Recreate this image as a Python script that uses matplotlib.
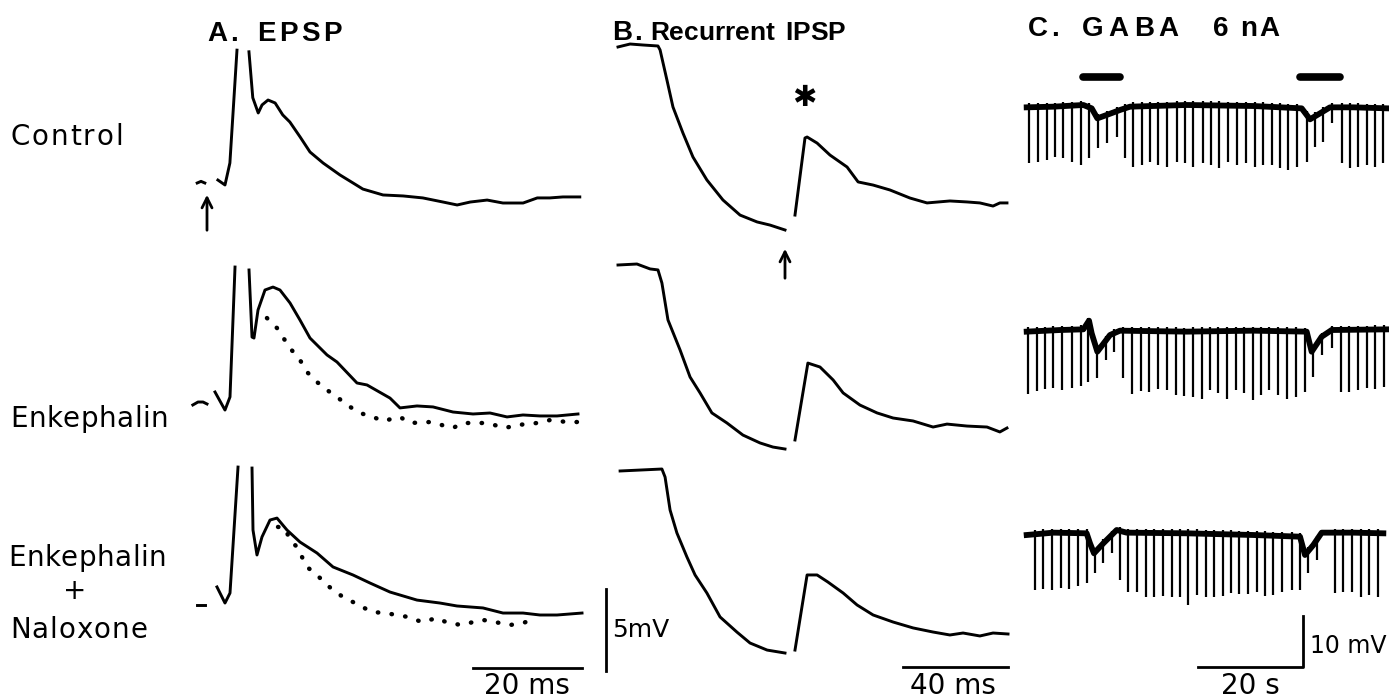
import numpy as np
import matplotlib.pyplot as plt

nan = np.nan
W, H = 1389, 700

# ---- A. EPSP (time in ms from stimulus, mV from pre-stimulus level) ----
a_pre_t = [[-1.8, -1.1, -0.4], [-2.6, -1.65, -0.73, 0.0], [-1.8, -0.4]]
a_pre_v = [[0.0, 0.1, 0.0], [-0.12, 0.06, 0.06, -0.06], [0.0, 0.0]]

ctrl_t = [2.0, 3.3, 4.2, 5.5, nan, 7.7, 8.4, 9.4, 10.1, 11.2, 12.5, 13.9, 15.2, 17.1, 18.9,
          21.3, 24.4, 26.8, 28.6, 32.3, 36.0, 39.6, 43.3, 45.9, 48.3, 51.4, 54.3, 58.0,
          60.6, 62.9, 65.3, 68.4]
ctrl_v = [0.18, -0.12, 1.22, 8.1, nan, 8.0, 5.2, 4.27, 4.76, 5.06, 4.88, 4.15, 3.72, 2.80, 1.89,
          1.22, 0.49, 0.0, -0.37, -0.73, -0.79, -0.91, -1.16, -1.34, -1.16, -1.04, -1.22, -1.22,
          -0.91, -0.91, -0.85, -0.85]

enk_t = [1.47, 3.30, 4.22, 5.14, nan, 7.71, 8.26, 8.62, 9.36, 10.64, 12.11, 13.39, 15.23, 17.06,
         18.90, 22.02, 23.85, 27.52, 29.36, 33.58, 35.41, 38.53, 41.47, 45.14, 48.81, 51.93,
         55.05, 57.98, 61.10, 64.22, 68.07]
enk_v = [0.67, -0.43, 0.37, 8.29, nan, 8.11, 4.02, 3.96, 5.67, 6.89, 7.07, 6.89, 6.10, 5.06,
         3.96, 2.93, 2.50, 1.22, 1.10, 0.30, -0.30, -0.18, -0.24, -0.55, -0.67, -0.61,
         -0.85, -0.73, -0.79, -0.79, -0.67]
enk_ctrl_t = [11.0, 12.84, 15.23, 17.06, 18.53, 20.18, 22.02, 23.85, 25.69, 28.07, 30.46, 32.29,
              35.41, 37.25, 40.92, 45.14, 46.97, 48.81, 51.38, 54.68, 57.06, 60.55, 62.94,
              66.06, 67.89]
enk_ctrl_v = [5.18, 4.57, 3.35, 2.62, 1.83, 1.28, 0.79, 0.37, -0.12, -0.61, -0.85, -1.10,
              -0.85, -1.22, -1.16, -1.52, -1.22, -1.22, -1.22, -1.52, -1.34, -1.22, -1.04,
              -1.16, -1.16]

nal_t = [1.83, 3.30, 4.22, 5.69, nan, 8.26, 8.44, 9.17, 10.09, 11.56, 12.84, 14.68, 17.06, 20.18,
         23.12, 26.79, 29.91, 33.58, 38.53, 42.75, 45.87, 50.64, 54.31, 57.98, 61.10, 64.22,
         68.81]
nal_v = [1.10, 0.12, 0.73, 8.41, nan, 8.35, 4.57, 3.05, 4.15, 5.18, 5.30, 4.57, 3.84, 3.17,
         2.32, 1.83, 1.34, 0.79, 0.30, 0.12, -0.06, -0.18, -0.49, -0.49, -0.61, -0.61, -0.49]
nal_ctrl_t = [13.03, 14.31, 15.23, 16.51, 18.35, 20.18, 21.65, 23.12, 24.95, 26.79, 28.44,
              30.46, 32.66, 34.86, 36.88, 39.45, 42.20, 44.22, 46.79, 48.81, 50.64, 52.84,
              55.60, 57.98, 60.55]
nal_ctrl_v = [4.76, 4.70, 3.96, 3.54, 2.32, 1.83, 1.34, 0.91, 0.49, 0.18, -0.12, -0.43, -0.49,
              -0.61, -0.73, -1.04, -0.79, -1.10, -1.22, -1.04, -0.91, -1.04, -1.22, -1.10,
              -0.79]

# ---- B. Recurrent IPSP (ms from antidromic stimulus, mV from initial level) ----
b1_t = [-63.5, -58.9, -54.0, -48.3, -47.5, -44.9, -42.6, -38.8, -35.0, -29.7, -23.6, -17.1,
        -10.6, -5.7, 0.0, nan, 3.8, 7.6, 8.4, 12.2, 17.1, 23.6, 27.8, 33.5, 39.9, 47.5, 54.0,
        62.7, 69.2, 74.1, 79.1, 81.7, 84.4]
b1_v = [-0.12, 0.06, 0.0, -0.06, -0.30, -2.13, -3.78, -5.37, -6.83, -8.23, -9.45, -10.37,
        -10.79, -10.98, -11.28, nan, -10.37, -5.67, -5.61, -5.98, -6.71, -7.44, -8.35, -8.54,
        -8.84, -9.33, -9.63, -9.51, -9.57, -9.63, -9.82, -9.63, -9.63]
b2_t = [-63.5, -56.3, -51.3, -48.3, -46.8, -44.5, -39.9, -36.1, -32.3, -27.8, -22.1, -16.0,
        -9.5, -4.6, 0.0, nan, 3.8, 8.7, 13.3, 18.3, 22.1, 28.5, 35.0, 41.1, 48.7, 56.3, 61.6,
        69.2, 76.8, 81.7, 84.4]
b2_v = [0.0, 0.06, -0.24, -0.30, -1.10, -3.35, -5.18, -6.83, -7.80, -9.02, -9.63, -10.37,
        -10.85, -11.10, -11.22, nan, -10.67, -5.98, -6.22, -7.01, -7.80, -8.54, -9.02, -9.33,
        -9.51, -9.88, -9.70, -9.82, -9.88, -10.18, -9.94]
b3_t = [-62.7, -46.8, -45.6, -43.7, -41.1, -37.3, -34.2, -29.7, -24.7, -18.3, -13.3, -6.8, 0.0,
        nan, 3.8, 8.4, 12.2, 16.3, 22.1, 27.4, 33.5, 41.1, 48.7, 56.3, 62.7, 67.7, 74.1, 79.1,
        84.8]
b3_v = [-0.06, 0.06, -0.43, -2.44, -3.84, -5.30, -6.40, -7.50, -8.96, -9.88, -10.55, -10.98,
        -11.16, nan, -10.98, -6.40, -6.40, -6.83, -7.50, -8.23, -8.84, -9.27, -9.63, -9.88,
        -10.06, -9.94, -10.12, -9.94, -10.00]

# ---- C. GABA 6 nA (time in s, mV from resting level) ----
gaba_on = [(10.48, 17.52), (51.81, 59.43)]

c1_base_t = [-0.25, 4.83, 10.54, 12.13, 13.21, 14.98, 17.52, 19.43, 30.22, 42.92, 52.13, 53.71,
             55.62, 57.52, 61.97, 68.63]
c1_base_v = [0.13, 0.26, 0.59, -0.07, -2.03, -1.37, -0.39, 0.26, 0.59, 0.39, -0.07, -2.22,
             -1.05, 0.13, 0.13, -0.07]
c1_spk_t = [0.25, 1.97, 3.56, 5.14, 6.73, 8.44, 10.10, 11.62, 13.40, 14.98, 16.89, 18.48, 20.06,
            21.65, 23.24, 24.83, 26.41, 28.32, 29.90, 31.49, 33.27, 34.79, 36.44, 38.16, 39.75,
            41.52, 43.24, 44.83, 46.41, 48.00, 49.59, 51.17, 53.08, 54.67, 56.25, 57.84, 59.75,
            61.33, 62.92, 64.51, 66.10, 67.68]
c1_spk_v = [10.85, 10.52, 10.20, 9.54, 9.87, 10.52, 11.18, 9.87, 7.91, 6.93, 5.62, 9.87, 11.50,
            11.18, 10.52, 11.18, 11.50, 10.52, 10.85, 11.50, 10.85, 11.18, 11.83, 10.52, 11.18,
            10.85, 11.50, 11.18, 11.18, 11.83, 12.16, 11.50, 10.52, 7.58, 6.60, 3.01, 10.85,
            11.83, 11.50, 11.18, 11.50, 10.85]

c2_base_t = [-0.25, 6.10, 10.54, 11.62, 12.13, 13.21, 15.62, 17.52, 30.22, 42.92, 53.08, 54.03,
             55.94, 57.84, 68.63]
c2_base_v = [0.07, 0.39, 0.52, 2.22, -0.26, -3.86, -0.59, 0.26, 0.07, 0.26, 0.07, -3.86, -0.92,
             0.39, 0.52]
c2_spk_t = [0.06, 1.65, 3.24, 4.83, 6.54, 8.32, 10.03, 11.49, 13.08, 14.86, 16.44, 18.03, 19.75,
            21.46, 23.11, 24.83, 26.41, 28.13, 29.78, 31.37, 33.08, 34.67, 36.25, 37.84, 39.62,
            41.14, 42.79, 44.32, 45.97, 47.68, 49.27, 50.98, 52.76, 54.35, 55.94, 57.84, 59.56,
            61.21, 62.79, 64.51, 66.10, 67.81]
c2_spk_v = [12.16, 11.50, 11.24, 11.05, 11.37, 11.05, 10.59, 9.74, 9.08, 5.49, 3.86, 9.08, 12.16,
            11.50, 11.70, 11.24, 11.37, 12.35, 12.55, 12.81, 13.20, 11.37, 12.03, 13.20, 11.37,
            12.03, 13.33, 12.35, 11.37, 12.35, 13.20, 12.68, 11.70, 8.76, 4.51, 3.20, 11.70,
            11.70, 11.37, 11.05, 11.24, 10.72]

c3_base_t = [-0.25, 4.83, 11.17, 11.81, 12.57, 14.35, 16.89, 18.79, 30.22, 42.92, 51.81, 52.76,
             54.35, 55.94, 61.97, 67.68]
c3_base_v = [0.0, 0.46, 0.33, -1.63, -3.59, -1.63, 0.98, 0.46, 0.33, 0.0, -0.33, -3.92, -1.96,
             0.46, 0.46, 0.33]
c3_spk_t = [1.33, 2.92, 4.63, 6.22, 7.87, 9.59, 11.17, 12.76, 14.35, 15.94, 17.52, 19.11, 20.70,
            22.41, 24.06, 25.65, 27.37, 28.95, 30.54, 32.13, 33.84, 35.43, 37.08, 38.67, 40.25,
            41.97, 43.56, 45.14, 46.73, 48.32, 50.22, 51.81, 53.40, 54.98, 58.48, 60.06, 61.65,
            63.37, 65.02, 66.73]
c3_spk_v = [10.78, 10.65, 10.78, 10.46, 10.65, 10.00, 9.48, 7.52, 5.56, 3.59, 8.82, 11.11, 11.11,
            12.09, 12.09, 11.96, 12.09, 12.09, 13.73, 11.76, 12.09, 12.09, 11.96, 11.44, 11.57,
            11.57, 11.11, 11.96, 11.76, 11.11, 10.78, 10.78, 7.52, 4.90, 11.44, 11.11, 11.11,
            12.09, 11.76, 12.09]

row_labels = ['Control', 'Enkephalin', 'Enkephalin', '+', 'Naloxone']

# ---------------------------------------------------------------------------
fig = plt.figure(figsize=(W / 100, H / 100), dpi=100)
plt.rcParams['font.family'] = ['DejaVu Sans']
rend = fig.canvas.get_renderer()


def panel(left, right, t0, xs, ys):
    ax = fig.add_axes([left / W, 0, (right - left) / W, 1])
    ax.set_xlim((left - t0) / xs, (right - t0) / xs)
    ax.set_ylim(0, H / ys)
    ax.axis('off')
    return ax


def ftext(x, y, s, **kw):
    return fig.text(x / W, 1 - y / H, s, **kw)


def spaced(x, y, s, track, **kw):
    # letter-spaced text, like the typeset labels of the original
    for ch in s:
        t = ftext(x, y, ch, **kw)
        x += t.get_window_extent(renderer=rend).width + track


axA = panel(190, 600, 207, 5.45, 16.4)
axB = panel(600, 1015, 785, 2.63, 16.4)
axC = panel(1015, 1389, 1028, 5.25, 5.1)

offA = [(H - y) / 16.4 for y in (183, 403, 605)]
offB = [(H - y) / 16.4 for y in (45, 265, 470)]
offC = [(H - y) / 5.1 for y in (108, 332, 535)]

lw = 2.1
dots = dict(linestyle=(0, (0.1, 3.0)), lw=3.2, dash_capstyle='round', color='k')

# A traces
for i, (t, v) in enumerate([(ctrl_t, ctrl_v), (enk_t, enk_v), (nal_t, nal_v)]):
    o = offA[i]
    axA.plot(a_pre_t[i], np.array(a_pre_v[i]) + o, color='k', lw=lw)
    axA.plot(t, np.array(v) + o, color='k', lw=lw, solid_joinstyle='round')
axA.plot(enk_ctrl_t, np.array(enk_ctrl_v) + offA[1], **dots)
axA.plot(nal_ctrl_t, np.array(nal_ctrl_v) + offA[2], **dots)
axA.annotate('', xy=(0, (H - 192) / 16.4), xytext=(0, (H - 233) / 16.4),
             arrowprops=dict(arrowstyle='->', lw=2, color='k', mutation_scale=18))
# 20 ms bar
axA.plot([48.8, 68.8], [(H - 668) / 16.4] * 2, color='k', lw=2)

# B traces
for i, (t, v) in enumerate([(b1_t, b1_v), (b2_t, b2_v), (b3_t, b3_v)]):
    axB.plot(t, np.array(v) + offB[i], color='k', lw=lw, solid_joinstyle='round')
axB.annotate('', xy=(0, (H - 246) / 16.4), xytext=(0, (H - 281) / 16.4),
             arrowprops=dict(arrowstyle='->', lw=2, color='k', mutation_scale=18))
axB.text(7.2, offB[0] - 3.23, '\u2731', ha='center', va='center', fontsize=21)
# 5 mV and 40 ms bars
axB.plot([-68.1, -68.1], [(H - 671) / 16.4, (H - 671) / 16.4 + 5], color='k', lw=2)
axB.plot([44.9, 84.8], [(H - 667) / 16.4] * 2, color='k', lw=2)

# C traces
for i, (bt, bv, st, sv) in enumerate([(c1_base_t, c1_base_v, c1_spk_t, c1_spk_v),
                                      (c2_base_t, c2_base_v, c2_spk_t, c2_spk_v),
                                      (c3_base_t, c3_base_v, c3_spk_t, c3_spk_v)]):
    o = offC[i]
    axC.plot(bt, np.array(bv) + o, color='k', lw=4.2, solid_joinstyle='round')
    top = np.interp(st, bt, bv) + o + 0.8
    axC.vlines(st, o - np.array(sv), top, color='k', lw=1.6)
for a, b in gaba_on:
    axC.plot([a, b], [(H - 77) / 5.1] * 2, color='k', lw=5.5, solid_capstyle='round')
# 10 mV / 20 s bars
yb = (H - 667) / 5.1
axC.plot([32.38, 52.38, 52.38], [yb, yb, yb + 10], color='k', lw=2)

# titles
tf = dict(fontsize=20, family='Liberation Sans', fontweight='bold')
spaced(207, 41, 'A.', 3, **tf)
spaced(257, 41, 'EPSP', 3.5, **tf)
spaced(612, 40, 'B.', 2, **tf)
spaced(650, 40, 'Recurrent', 0, **dict(tf, fontsize=19))
spaced(785, 40, 'IPSP', 0, **dict(tf, fontsize=19))
spaced(1028, 36, 'C.', 3, **tf)
spaced(1082, 36, 'GABA', 5, **tf)
spaced(1213, 36, '6', 0, **tf)
spaced(1240, 36, 'nA', 2, **tf)

# row labels
lfs = 20
spaced(10, 145, row_labels[0], 2, fontsize=lfs)
spaced(10, 427, row_labels[1], 0.5, fontsize=lfs)
spaced(8, 566, row_labels[2], 0.5, fontsize=lfs)
ftext(75, 591, row_labels[3], fontsize=lfs, ha='center', va='center')
spaced(10, 638, row_labels[4], 1, fontsize=lfs)

# scale-bar labels
ftext(527, 694, '20 ms', fontsize=20, ha='center')
ftext(953, 694, '40 ms', fontsize=20, ha='center')
ftext(1250, 694, '20 s', fontsize=20, ha='center')
ftext(612, 637, '5mV', fontsize=18)
ftext(1310, 653, '10 mV', fontsize=17)

fig.savefig('out.png', dpi=100, facecolor='white')
